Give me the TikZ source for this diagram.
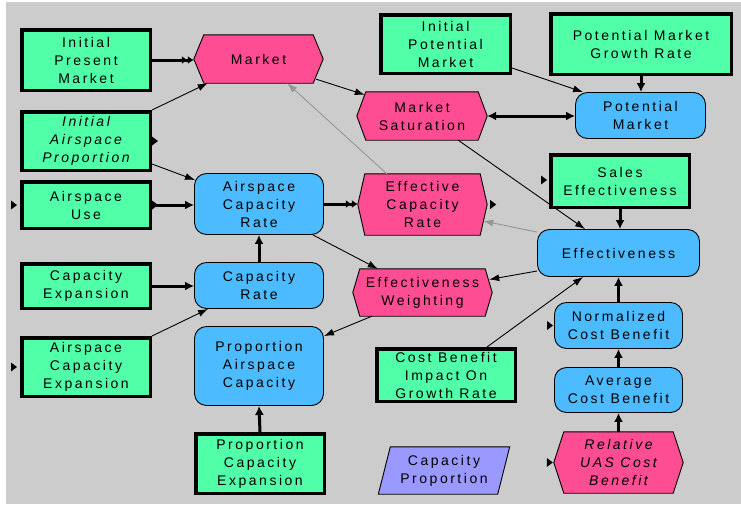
\documentclass[tikz,border=0pt]{standalone}
\usepackage{fontspec}
\setmainfont{Liberation Sans}[LetterSpace=18]
\usetikzlibrary{arrows.meta,calc}
\definecolor{bgc}{RGB}{204,204,204}
\definecolor{grn}{RGB}{80,255,168}
\definecolor{pnk}{RGB}{255,77,148}
\definecolor{blu}{RGB}{77,187,255}
\definecolor{lav}{RGB}{153,153,255}
\definecolor{gln}{RGB}{150,150,150}
\pgfdeclarelayer{back}
\pgfdeclarelayer{shp}
\pgfsetlayers{back,shp,main}
\tikzset{
  lbl/.style={align=center,font=\fontsize{14}{18}\selectfont,inner sep=0pt,text=black},
  gbox/.style={lbl,draw=black,line width=3.5pt,fill=grn},
  bbox/.style={lbl,draw=black,line width=0.9pt,fill=blu,rounded corners=12pt},
  hbox/.style={lbl},
  hexpath/.style={draw=black,line width=0.9pt,fill=pnk},
  thinarr/.style={draw=black,line width=0.9pt,-{Latex[length=10pt,width=7pt]}},
  grayarr/.style={draw=gln,line width=0.9pt,-{Latex[length=10pt,width=7pt]}},
  thickarr/.style={draw=black,line width=3pt,-{Latex[length=9pt,width=9pt]}},
  dblarr/.style={draw=black,line width=3pt,-{Latex[length=6pt,width=8pt]Latex[length=6pt,width=8pt]}},
  bothArr/.style={draw=black,line width=3pt,{Latex[length=9pt,width=9pt]}-{Latex[length=9pt,width=9pt]}},
}
\newcommand\hexof[2]{\begin{pgfonlayer}{shp}\path[hexpath] (#1.west) -- ([xshift=#2]#1.north west) -- ([xshift=-#2]#1.north east) -- (#1.east) -- ([xshift=-#2]#1.south east) -- ([xshift=#2]#1.south west) -- cycle;\end{pgfonlayer}}
\newcommand\mk[1]{\fill[black] (#1) -- ++(-6,-4.5) -- ++(0,9) -- cycle;}
\begin{document}
\begin{tikzpicture}[x=1pt,y=-1pt]
\useasboundingbox (0,0) rectangle (741,504);
\begin{pgfonlayer}{back}
\fill[white] (0,0) rectangle (741,504);
\fill[bgc] (6,2) rectangle (741,504);
\end{pgfonlayer}
% green boxes
\node[gbox,minimum width=128.5pt,minimum height=60.5pt] (ipm) at (86,60) {Initial\\Present\\Market};
\node[gbox,minimum width=128.5pt,minimum height=58.5pt] (iap) at (86,141) {\itshape Initial\\\itshape Airspace\\\itshape Proportion};
\node[gbox,minimum width=128.5pt,minimum height=46.5pt] (au) at (86,205) {Airspace\\Use};
\node[gbox,minimum width=128.5pt,minimum height=44.5pt] (ce) at (86,286) {Capacity\\Expansion};
\node[gbox,minimum width=128.5pt,minimum height=58.5pt] (ace) at (86,367) {Airspace\\Capacity\\Expansion};
\node[gbox,minimum width=128.5pt,minimum height=59.5pt] (pce) at (260,463.5) {Proportion\\Capacity\\Expansion};
\node[gbox,minimum width=129.5pt,minimum height=58.5pt] (ipotm) at (445.5,44) {Initial\\Potential\\Market};
\node[gbox,minimum width=180.5pt,minimum height=60.5pt] (pmgr) at (641,44) {Potential Market\\Growth Rate};
\node[gbox,minimum width=138.5pt,minimum height=52.5pt] (se) at (620,181) {Sales\\Effectiveness};
\node[gbox,minimum width=138.5pt,minimum height=52.5pt] (cbi) at (446,375) {Cost Benefit\\Impact On\\Growth Rate};
% blue boxes
\node[bbox,minimum width=129pt,minimum height=61pt] (acr) at (259,204) {Airspace\\Capacity\\Rate};
\node[bbox,minimum width=129pt,minimum height=46pt] (cr) at (259,285.5) {Capacity\\Rate};
\node[bbox,minimum width=129pt,minimum height=79pt] (pac) at (259,366) {Proportion\\Airspace\\Capacity};
\node[bbox,minimum width=130pt,minimum height=46pt] (pm) at (640.5,115.5) {Potential\\Market};
\node[bbox,minimum width=162pt,minimum height=47pt] (eff) at (618.5,253) {Effectiveness};
\node[bbox,minimum width=128pt,minimum height=46pt] (ncb) at (618.5,325.5) {Normalized\\Cost Benefit};
\node[bbox,minimum width=128pt,minimum height=45pt] (acb) at (618.5,390) {Average\\Cost Benefit};
% pink hexagons
\node[hbox,minimum width=129pt,minimum height=48pt] (mkt) at (258.5,59) {Market};
\hexof{mkt}{10pt}
\node[hbox,minimum width=130pt,minimum height=48pt] (ms) at (422,116) {Market\\Saturation};
\hexof{ms}{9pt}
\node[hbox,minimum width=129pt,minimum height=61pt] (ecr) at (422.5,204.5) {Effective\\Capacity\\Rate};
\hexof{ecr}{7pt}
\node[hbox,minimum width=139pt,minimum height=47pt] (ew) at (422.5,292.5) {Effectiveness\\Weighting};
\hexof{ew}{7pt}
\node[hbox,minimum width=129pt,minimum height=61pt] (rucb) at (618.5,462.5) {\itshape Relative\\\itshape UAS Cost\\\itshape Benefit};
\hexof{rucb}{10pt}
% parallelogram
\node[lbl,minimum width=119pt,minimum height=47pt] (cp) at (444,470.5) {Capacity\\Proportion};
\begin{pgfonlayer}{shp}
\path[draw=black,line width=0.9pt,fill=lav] ([xshift=-6pt]cp.south west) -- ([xshift=6pt]cp.north west) -- ([xshift=6pt]cp.north east) -- ([xshift=-6pt]cp.south east) -- cycle;
\end{pgfonlayer}
% connectors
\draw[dblarr] (ipm.east) -- (ipm.east -| mkt.west);
\draw[thinarr] (iap.north east) -- ([xshift=14pt]mkt.south west);
\draw[thinarr] ([yshift=8pt]iap.south east) -- ([xshift=1pt,yshift=-7pt]acr.north west);
\draw[thickarr] (au.east) -- (au.east -| acr.west);
\draw[thickarr] (ce.east) -- (ce.east -| cr.west);
\draw[thinarr] (ace.north east) -- ([xshift=14pt]cr.south west);
\draw[thickarr] (cr.north) -- (acr.south);
\draw[thickarr] (pce.north) -- (pac.south);
\draw[dblarr] (acr.east) -- (acr.east -| ecr.west);
\draw[thinarr] ([xshift=-11pt]acr.south east) -- ([xshift=25pt]ew.north west);
\draw[thinarr] ([xshift=19pt]ew.south west) -- ([yshift=-10pt]pac.north east);
\draw[grayarr] ([xshift=29pt]ecr.north west) -- ([xshift=-36pt]mkt.south east);
\draw[thinarr] ([xshift=-7pt,yshift=4pt]mkt.south east) -- ([xshift=8pt,yshift=-3pt]ms.north west);
\draw[thinarr] ([yshift=7pt]ipotm.south east) -- ([xshift=8pt]pm.north west);
\draw[thickarr] (pmgr.south) -- (pmgr.south |- pm.north);
\draw[bothArr] (ms.east) -- (ms.east -| pm.west);
\draw[thinarr] ([xshift=-29pt]ms.south east) -- ([xshift=48pt]eff.north west);
\draw[thickarr] (se.south) -- (se.south |- eff.north);
\draw[grayarr] ([yshift=-3pt]eff.north west) -- ([xshift=-4pt,yshift=-16.5pt]ecr.east);
\draw[thinarr] ([yshift=-18pt]eff.west) -- ([xshift=-3pt,yshift=13pt]ew.east);
\draw[thickarr] (ncb.north) -- (eff.south);
\draw[thickarr] (acb.north) -- (ncb.south);
\draw[thickarr] (rucb.north) -- (acb.south);
\draw[thinarr] ([xshift=-30pt]cbi.north east) -- ([xshift=46pt]eff.south west);
% markers
\mk{[xshift=6pt]iap.east}
\mk{[xshift=6pt]au.east}
\mk{[xshift=-3pt]au.west}
\mk{[xshift=-3pt]ace.west}
\mk{[xshift=-2pt,yshift=1pt]se.west}
\mk{[xshift=9pt]ecr.east}
\mk{[xshift=-1pt]ncb.west}
\mk{[xshift=-1pt]rucb.west}
\end{tikzpicture}
\end{document}
